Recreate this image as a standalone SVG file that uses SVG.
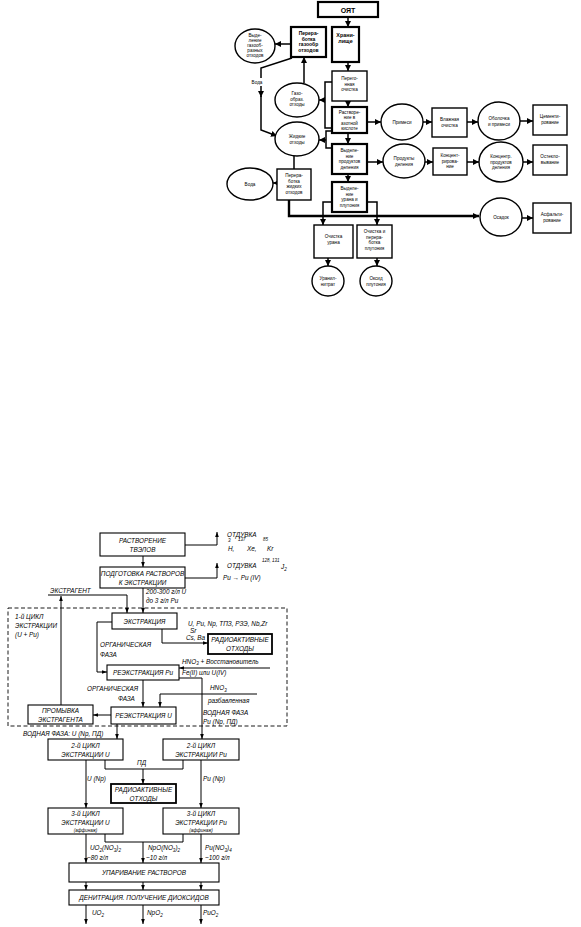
<svg xmlns="http://www.w3.org/2000/svg" width="581" height="927" viewBox="0 0 581 927">
<defs>
<marker id="ta" markerUnits="userSpaceOnUse" markerWidth="6" markerHeight="6" viewBox="0 0 6 6" refX="6" refY="3" orient="auto"><path d="M0,0 L6,3 L0,6 z" fill="#000"/></marker>
<marker id="ba" markerUnits="userSpaceOnUse" markerWidth="5" markerHeight="5" viewBox="0 0 6 6" refX="6" refY="3" orient="auto"><path d="M0,0.8 L6,3 L0,5.2 z" fill="#000"/></marker>
</defs>
<style>
.tb{fill:#fff;stroke:#000;stroke-width:1.4}
.tk{fill:#fff;stroke:#000;stroke-width:2.2}
.tl{fill:none;stroke:#000;stroke-width:1.5}
.tlk{fill:none;stroke:#000;stroke-width:2.4}
.tt{font-family:"Liberation Sans",Arial,sans-serif;font-size:4.6px;text-anchor:middle;fill:#000}
.ttb{font-family:"Liberation Sans",Arial,sans-serif;font-size:5.4px;font-weight:bold;text-anchor:middle;fill:#000}
.bb{fill:#fff;stroke:#000;stroke-width:1.1}
.bk{fill:#fff;stroke:#000;stroke-width:1.8}
.bl{fill:none;stroke:#000;stroke-width:1}
.bt{font-family:"Liberation Sans",Arial,sans-serif;font-size:6.4px;font-style:italic;fill:#000}
.bc{text-anchor:middle}
.sm{font-size:4.5px}
</style>
<rect width="581" height="927" fill="#fff"/>

<!-- ===== TOP DIAGRAM ===== -->
<g id="top-connectors">
<path class="tl" d="M348,17 V27" marker-end="url(#ta)"/>
<path class="tl" d="M348,62 V71" marker-end="url(#ta)"/>
<path class="tl" d="M348,101 V107" marker-end="url(#ta)"/>
<path class="tl" d="M348,133 V144" marker-end="url(#ta)"/>
<path class="tl" d="M348,174 V182" marker-end="url(#ta)"/>
<path class="tl" d="M291,44 H275" marker-end="url(#ta)"/>
<path class="tl" d="M304,83 V57" marker-end="url(#ta)"/>
<path class="tl" d="M332,82 H325 V128 H332"/>
<path class="tl" d="M325,100 H319" marker-end="url(#ta)"/>
<path class="tl" d="M332,131 H326 V148 H332"/>
<path class="tl" d="M326,140 H319" marker-end="url(#ta)"/>
<path class="tl" d="M292,58 L261,68 V78"/>
<path class="tl" d="M261,86 V97" marker-end="url(#ta)"/>
<path class="tl" d="M261,96 V130 L277,136" marker-end="url(#ta)"/>
<path class="tl" d="M294,156 V169"/>
<path class="tl" d="M277,183 H273" marker-end="url(#ta)"/>
<path class="tlk" d="M289,200 V216 H479" marker-end="url(#ta)"/>
<path class="tl" d="M522,218 H533" marker-end="url(#ta)"/>
<path class="tl" d="M332,202 H323 V225" marker-end="url(#ta)"/>
<path class="tl" d="M367,202 H377 V225" marker-end="url(#ta)"/>
<path class="tl" d="M328,258 V266" marker-end="url(#ta)"/>
<path class="tl" d="M377,258 V266" marker-end="url(#ta)"/>
<path class="tl" d="M367,122 H381" marker-end="url(#ta)"/>
<path class="tl" d="M423,122 H432" marker-end="url(#ta)"/>
<path class="tl" d="M467,122 H478" marker-end="url(#ta)"/>
<path class="tl" d="M520,121 H533" marker-end="url(#ta)"/>
<path class="tl" d="M367,162 H383" marker-end="url(#ta)"/>
<path class="tl" d="M425,162 H433" marker-end="url(#ta)"/>
<path class="tl" d="M467,162 H479" marker-end="url(#ta)"/>
<path class="tl" d="M523,162 H533" marker-end="url(#ta)"/>
<text class="tt" x="257" y="84">Вода</text>
</g>

<g id="t-oyat"><rect class="tk" x="318" y="2" width="60" height="15"/><text class="ttb" x="348" y="12.5" style="font-size:7px">ОЯТ</text></g>
<g id="t-hran"><rect class="tk" x="332" y="27" width="27" height="35"/><text class="ttb" x="345.5" y="37">Храни-<tspan x="345.5" dy="6">лище</tspan></text></g>
<g id="t-pergaz"><rect class="tk" x="291" y="27" width="35" height="30"/><text class="ttb" x="308.5" y="35" style="font-size:5px">Перера-<tspan x="308.5" dy="5.5">ботка</tspan><tspan x="308.5" dy="5.5">газообр</tspan><tspan x="308.5" dy="5.5">отходов</tspan></text></g>
<g id="t-vydgaz"><ellipse class="tb" cx="255" cy="46" rx="20" ry="17"/><text class="tt" x="255" y="37">Выде-<tspan x="255" dy="5">ление</tspan><tspan x="255" dy="5">газооб-</tspan><tspan x="255" dy="5">разных</tspan><tspan x="255" dy="5">отходов</tspan></text></g>
<g id="t-pereg"><rect class="tb" x="332" y="71" width="35" height="30"/><text class="tt" x="349.5" y="80">Перего-<tspan x="349.5" dy="5.5">нная</tspan><tspan x="349.5" dy="5.5">очистка</tspan></text></g>
<g id="t-rastv"><rect class="tk" x="332" y="107" width="35" height="26"/><text class="tt" x="349.5" y="114">Растворе-<tspan x="349.5" dy="5.3">ние в</tspan><tspan x="349.5" dy="5.3">азотной</tspan><tspan x="349.5" dy="5.3">кислоте</tspan></text></g>
<g id="t-vydpd"><rect class="tk" x="332" y="144" width="35" height="30"/><text class="tt" x="349.5" y="152">Выделе-<tspan x="349.5" dy="5.5">ние</tspan><tspan x="349.5" dy="5.5">продуктов</tspan><tspan x="349.5" dy="5.5">деления</tspan></text></g>
<g id="t-vydupu"><rect class="tk" x="332" y="182" width="35" height="30"/><text class="tt" x="349.5" y="190">Выделе-<tspan x="349.5" dy="5.5">ние</tspan><tspan x="349.5" dy="5.5">урана и</tspan><tspan x="349.5" dy="5.5">плутония</tspan></text></g>
<g id="t-gazo"><ellipse class="tb" cx="297" cy="100" rx="22" ry="17"/><text class="tt" x="297" y="95">Газо-<tspan x="297" dy="5.5">образ.</tspan><tspan x="297" dy="5.5">отходы</tspan></text></g>
<g id="t-zhid"><ellipse class="tb" cx="297" cy="139" rx="22" ry="17"/><text class="tt" x="297" y="138">Жидкие<tspan x="297" dy="5.5">отходы</tspan></text></g>
<g id="t-perzh"><rect class="tb" x="277" y="169" width="34" height="31"/><text class="tt" x="294" y="177">Перера-<tspan x="294" dy="5.5">ботка</tspan><tspan x="294" dy="5.5">жидких</tspan><tspan x="294" dy="5.5">отходов</tspan></text></g>
<g id="t-voda"><ellipse class="tb" cx="250" cy="184" rx="23" ry="16"/><text class="tt" x="250" y="186">Вода</text></g>
<g id="t-osadok"><ellipse class="tb" cx="501" cy="217" rx="21" ry="19"/><text class="tt" x="501" y="219">Осадок</text></g>
<g id="t-asf"><rect class="tb" x="533" y="203" width="38" height="30"/><text class="tt" x="552" y="216">Асфальти-<tspan x="552" dy="5.5">рование</tspan></text></g>
<g id="t-ochu"><rect class="tb" x="314" y="225" width="39" height="33"/><text class="tt" x="333.5" y="238">Очистка<tspan x="333.5" dy="5.5">урана</tspan></text></g>
<g id="t-ochpu"><rect class="tb" x="357" y="225" width="35" height="33"/><text class="tt" x="374.5" y="233">Очистка и<tspan x="374.5" dy="5.5">перера-</tspan><tspan x="374.5" dy="5.5">ботка</tspan><tspan x="374.5" dy="5.5">плутония</tspan></text></g>
<g id="t-uranil"><ellipse class="tb" cx="328" cy="281" rx="16" ry="15"/><text class="tt" x="328" y="280">Уранил-<tspan x="328" dy="5.5">нитрат</tspan></text></g>
<g id="t-oksid"><ellipse class="tb" cx="376" cy="281" rx="16" ry="15"/><text class="tt" x="376" y="280">Оксид<tspan x="376" dy="5.5">плутония</tspan></text></g>
<g id="t-prim"><ellipse class="tb" cx="402" cy="122" rx="21" ry="18"/><text class="tt" x="402" y="124">Примеси</text></g>
<g id="t-vlazh"><rect class="tb" x="432" y="108" width="35" height="29"/><text class="tt" x="449.5" y="121">Влажная<tspan x="449.5" dy="5.5">очистка</tspan></text></g>
<g id="t-obol"><ellipse class="tb" cx="499" cy="121" rx="21" ry="19"/><text class="tt" x="499" y="120">Оболочка<tspan x="499" dy="5.5">и примеси</tspan></text></g>
<g id="t-cem"><rect class="tb" x="533" y="105" width="34" height="30"/><text class="tt" x="550" y="118">Цементи-<tspan x="550" dy="5.5">рование</tspan></text></g>
<g id="t-prod"><ellipse class="tb" cx="404" cy="161" rx="21" ry="17"/><text class="tt" x="404" y="160">Продукты<tspan x="404" dy="5.5">деления</tspan></text></g>
<g id="t-konc"><rect class="tb" x="433" y="148" width="34" height="27"/><text class="tt" x="450" y="157">Концент-<tspan x="450" dy="5.5">рирова-</tspan><tspan x="450" dy="5.5">ние</tspan></text></g>
<g id="t-koncpd"><ellipse class="tb" cx="501" cy="162" rx="22" ry="20"/><text class="tt" x="501" y="158">Концентр.<tspan x="501" dy="5.5">продуктов</tspan><tspan x="501" dy="5.5">деления</tspan></text></g>
<g id="t-ostek"><rect class="tb" x="533" y="145" width="34" height="30"/><text class="tt" x="550" y="158">Остекло-<tspan x="550" dy="5.5">вывание</tspan></text></g>

<!-- ===== BOTTOM DIAGRAM ===== -->
<rect x="8" y="608" width="279" height="118" fill="none" stroke="#000" stroke-width="0.9" stroke-dasharray="4,2.5"/>
<g id="bottom-connectors">
<path class="bl" d="M143,556 V567" marker-end="url(#ba)"/>
<path class="bl" d="M185,545 H217 V532" marker-end="url(#ba)"/>
<path class="bl" d="M185,578 H217 V563" marker-end="url(#ba)"/>
<path class="bl" d="M143,588 V613" marker-end="url(#ba)"/>
<path class="bl" d="M48,595 H127 V613" marker-end="url(#ba)"/>
<path class="bl" d="M61,705 V596" marker-end="url(#ba)"/>
<path class="bl" d="M162,629 V643 H208" marker-end="url(#ba)"/>
<path class="bl" d="M112,622 H97 V672 H107" marker-end="url(#ba)"/>
<path class="bl" d="M270,668 H179" marker-end="url(#ba)"/>
<path class="bl" d="M179,678 H202 V739" marker-end="url(#ba)"/>
<path class="bl" d="M143,680 V707" marker-end="url(#ba)"/>
<path class="bl" d="M257,694 H160 V707" marker-end="url(#ba)"/>
<path class="bl" d="M111,715 H93" marker-end="url(#ba)"/>
<path class="bl" d="M117,724 V739" marker-end="url(#ba)"/>
<path class="bl" d="M105,760 V769 H183 V760"/>
<path class="bl" d="M143,769 V784" marker-end="url(#ba)"/>
<path class="bl" d="M86,760 V808" marker-end="url(#ba)"/>
<path class="bl" d="M201,760 V808" marker-end="url(#ba)"/>
<path class="bl" d="M86,834 V863" marker-end="url(#ba)"/>
<path class="bl" d="M105,834 V842 H183 V834"/>
<path class="bl" d="M143,842 V863" marker-end="url(#ba)"/>
<path class="bl" d="M201,834 V863" marker-end="url(#ba)"/>
<path class="bl" d="M86,882 V890" marker-end="url(#ba)"/>
<path class="bl" d="M143,882 V890" marker-end="url(#ba)"/>
<path class="bl" d="M201,882 V890" marker-end="url(#ba)"/>
<path class="bl" d="M86,905 V924" marker-end="url(#ba)"/>
<path class="bl" d="M143,905 V924" marker-end="url(#ba)"/>
<path class="bl" d="M201,905 V924" marker-end="url(#ba)"/>
</g>
<g id="bottom-labels">
<text class="bt" x="227" y="537">ОТДУВКА</text>
<text class="bt sm" x="228" y="542">3</text>
<text class="bt sm" x="238" y="541">137</text>
<text class="bt sm" x="263" y="541">85</text>
<text class="bt" x="228" y="551">H,</text>
<text class="bt" x="247" y="551">Xe,</text>
<text class="bt" x="267" y="551">Kr</text>
<text class="bt" x="227" y="568">ОТДУВКА</text>
<text class="bt sm" x="262" y="562">128, 131</text>
<text class="bt" x="281" y="569">J<tspan class="sm" dy="2">2</tspan></text>
<text class="bt" x="223" y="580">Pu → Pu (IV)</text>
<text class="bt" x="146" y="594">200-300 г/л U</text>
<text class="bt" x="146" y="603">до 3 г/л Pu</text>
<text class="bt" x="50" y="593">ЭКСТРАГЕНТ</text>
<text class="bt" x="15" y="619">1-й ЦИКЛ</text>
<text class="bt" x="15" y="628">ЭКСТРАКЦИИ</text>
<text class="bt" x="15" y="637">(U + Pu)</text>
<text class="bt" x="188" y="626">U, Pu, Np, ТПЗ, РЗЭ, Nb,Zr</text>
<text class="bt" x="190" y="632.5">Sr</text>
<text class="bt" x="186" y="640">Cs, Ba</text>
<text class="bt" x="100" y="647">ОРГАНИЧЕСКАЯ</text>
<text class="bt" x="100" y="657">ФАЗА</text>
<text class="bt" x="182" y="664">HNO<tspan class="sm" dy="1.2">3</tspan><tspan dy="-1.2"> + Восстановитель</tspan></text>
<text class="bt" x="182" y="675">Fe(II) или U(IV)</text>
<text class="bt" x="87" y="691">ОРГАНИЧЕСКАЯ</text>
<text class="bt" x="118" y="701">ФАЗА</text>
<text class="bt" x="210" y="690">HNO<tspan class="sm" dy="1.5">3</tspan></text>
<text class="bt" x="208" y="703">разбавленная</text>
<text class="bt" x="203" y="715">ВОДНАЯ ФАЗА</text>
<text class="bt" x="203" y="724">Pu (Np, ПД)</text>
<text class="bt" x="23" y="736">ВОДНАЯ ФАЗА: U (Np, ПД)</text>
<text class="bt" x="137" y="765">ПД</text>
<text class="bt" x="87" y="781">U (Np)</text>
<text class="bt" x="203" y="781">Pu (Np)</text>
<text class="bt" x="90" y="850">UO<tspan class="sm" dy="1.5">2</tspan><tspan dy="-1.5">(NO</tspan><tspan class="sm" dy="1.5">3</tspan><tspan dy="-1.5">)</tspan><tspan class="sm" dy="1.5">2</tspan></text>
<text class="bt" x="87" y="860">~80 г/л</text>
<text class="bt" x="148" y="850">NpO(NO<tspan class="sm" dy="1.5">3</tspan><tspan dy="-1.5">)</tspan><tspan class="sm" dy="1.5">2</tspan></text>
<text class="bt" x="146" y="860">~10 г/л</text>
<text class="bt" x="205" y="850">Pu(NO<tspan class="sm" dy="1.5">3</tspan><tspan dy="-1.5">)</tspan><tspan class="sm" dy="1.5">4</tspan></text>
<text class="bt" x="205" y="860">~100 г/л</text>
<text class="bt" x="92" y="915">UO<tspan class="sm" dy="1.5">2</tspan></text>
<text class="bt" x="147" y="915">NpO<tspan class="sm" dy="1.5">2</tspan></text>
<text class="bt" x="203" y="915">PuO<tspan class="sm" dy="1.5">2</tspan></text>
</g>

<g id="b-rastv"><rect class="bb" x="100" y="533" width="85" height="23"/><text class="bt bc" x="142.5" y="543">РАСТВОРЕНИЕ</text><text class="bt bc" x="142.5" y="552">ТВЭЛОВ</text></g>
<g id="b-podg"><rect class="bb" x="100" y="567" width="85" height="21"/><text class="bt bc" x="142.5" y="576">ПОДГОТОВКА РАСТВОРОВ</text><text class="bt bc" x="142.5" y="585">К ЭКСТРАКЦИИ</text></g>
<g id="b-ekstr"><rect class="bb" x="112" y="613" width="65" height="16"/><text class="bt bc" x="144.5" y="623.5">ЭКСТРАКЦИЯ</text></g>
<g id="b-rao1"><rect class="bk" x="208" y="634" width="64" height="20"/><text class="bt bc" x="240" y="642">РАДИОАКТИВНЫЕ</text><text class="bt bc" x="240" y="651">ОТХОДЫ</text></g>
<g id="b-reekpu"><rect class="bb" x="107" y="665" width="72" height="15"/><text class="bt bc" x="143" y="675">РЕЭКСТРАКЦИЯ Pu</text></g>
<g id="b-reeku"><rect class="bb" x="111" y="707" width="65" height="17"/><text class="bt bc" x="143.5" y="718">РЕЭКСТРАКЦИЯ U</text></g>
<g id="b-prom"><rect class="bb" x="28" y="705" width="65" height="19"/><text class="bt bc" x="60.5" y="713">ПРОМЫВКА</text><text class="bt bc" x="60.5" y="722">ЭКСТРАГЕНТА</text></g>
<g id="b-2u"><rect class="bb" x="48" y="739" width="75" height="21"/><text class="bt bc" x="85.5" y="748">2-й ЦИКЛ</text><text class="bt bc" x="85.5" y="757">ЭКСТРАКЦИИ U</text></g>
<g id="b-2pu"><rect class="bb" x="163" y="739" width="76" height="21"/><text class="bt bc" x="201" y="748">2-й ЦИКЛ</text><text class="bt bc" x="201" y="757">ЭКСТРАКЦИИ Pu</text></g>
<g id="b-rao2"><rect class="bk" x="111" y="784" width="65" height="19"/><text class="bt bc" x="143.5" y="792">РАДИОАКТИВНЫЕ</text><text class="bt bc" x="143.5" y="801">ОТХОДЫ</text></g>
<g id="b-3u"><rect class="bb" x="48" y="808" width="75" height="26"/><text class="bt bc" x="85.5" y="816">3-й ЦИКЛ</text><text class="bt bc" x="85.5" y="825">ЭКСТРАКЦИИ U</text><text class="bt bc sm" x="85.5" y="832">(аффинаж)</text></g>
<g id="b-3pu"><rect class="bb" x="163" y="808" width="76" height="26"/><text class="bt bc" x="201" y="816">3-й ЦИКЛ</text><text class="bt bc" x="201" y="825">ЭКСТРАКЦИИ Pu</text><text class="bt bc sm" x="201" y="832">(аффинаж)</text></g>
<g id="b-upar"><rect class="bb" x="69" y="863" width="150" height="19"/><text class="bt bc" x="144" y="875">УПАРИВАНИЕ РАСТВОРОВ</text></g>
<g id="b-denit"><rect class="bb" x="69" y="890" width="150" height="15"/><text class="bt bc" x="144" y="900">ДЕНИТРАЦИЯ. ПОЛУЧЕНИЕ ДИОКСИДОВ</text></g>
</svg>
